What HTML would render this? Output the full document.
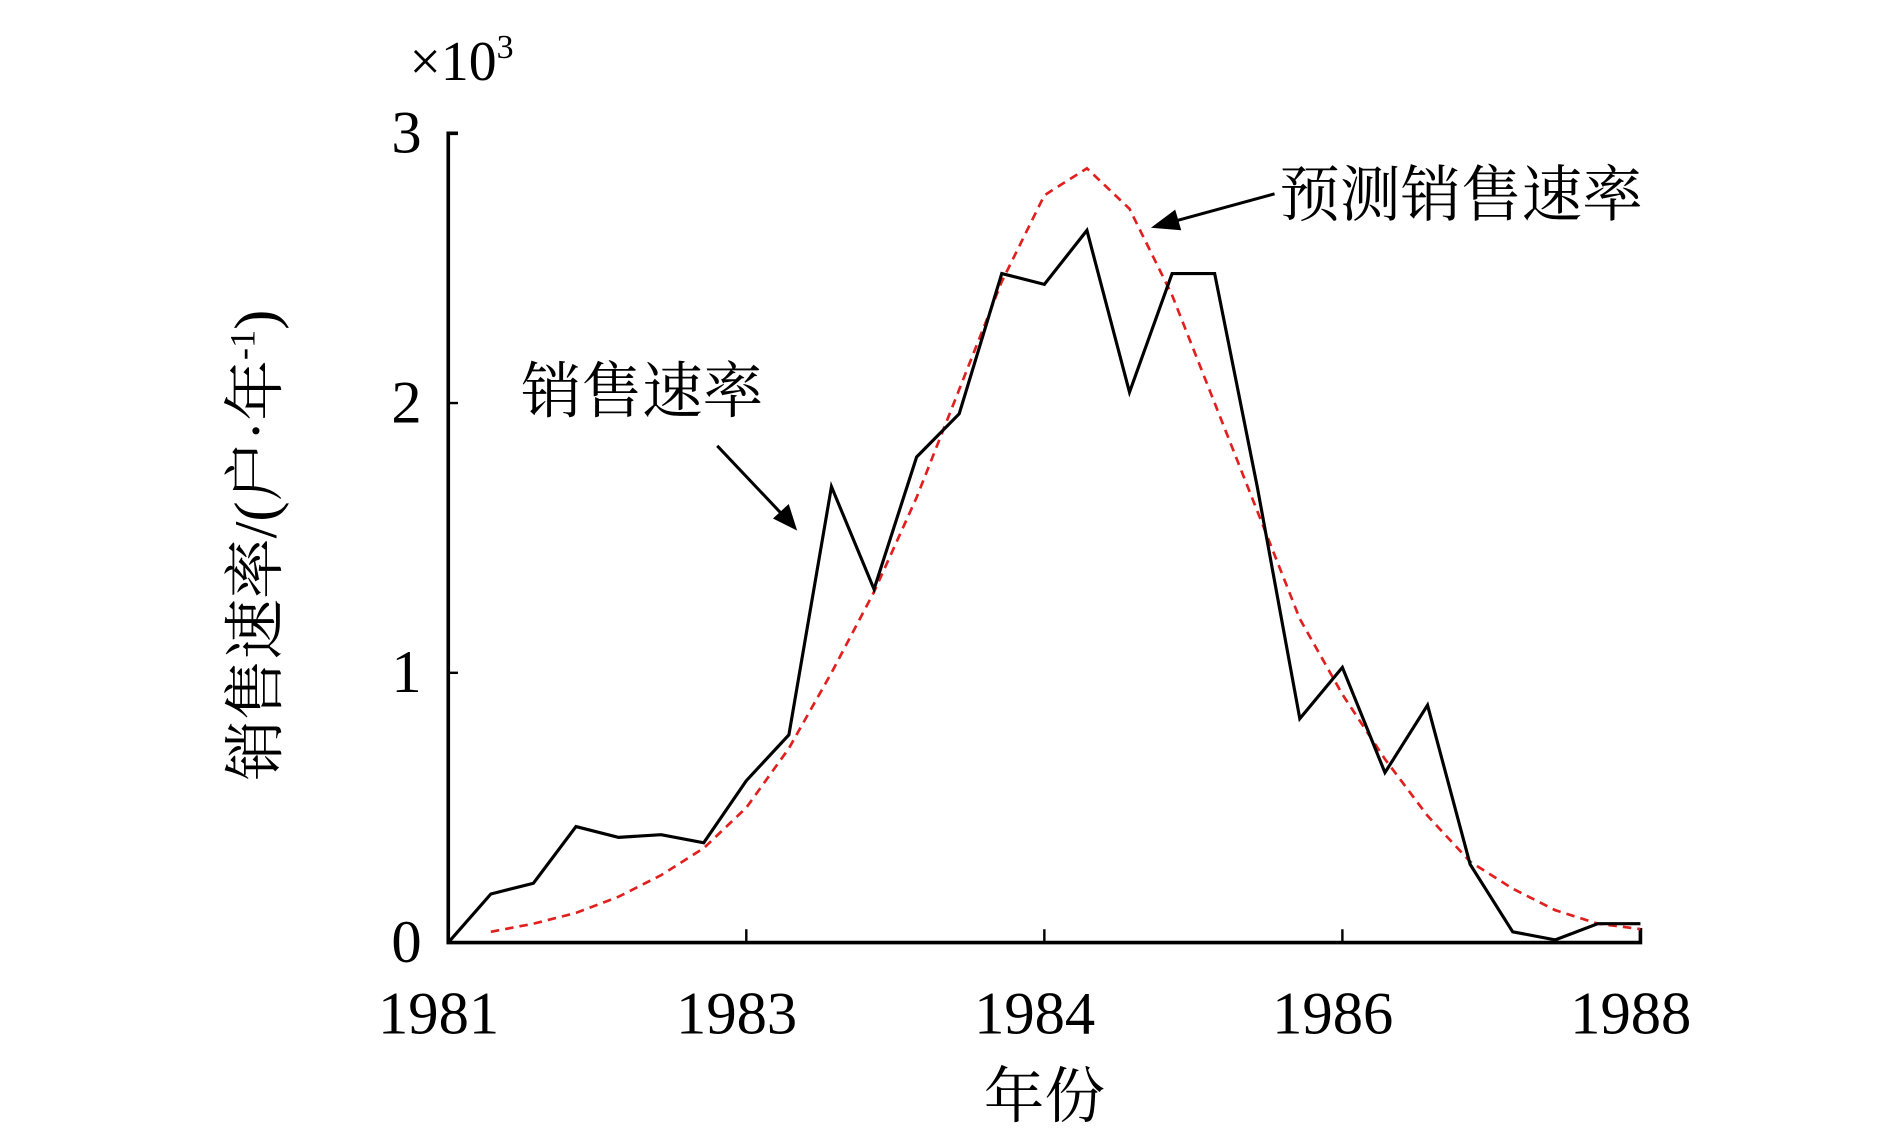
<!DOCTYPE html>
<html><head><meta charset="utf-8"><style>html,body{margin:0;padding:0;background:#fff}svg{display:block}</style></head>
<body>
<svg id="chart" width="1890" height="1134" viewBox="0 0 1560 936" xmlns="http://www.w3.org/2000/svg" font-family="'Liberation Serif','Noto Serif CJK SC',serif">
<rect width="1560" height="936" fill="#fff"/>
<g id="axes"></g>
<g id="series"></g>
<text x="338" y="66" font-size="46">×10<tspan font-size="28" dy="-18">3</tspan></text>
<text transform="translate(228,450) rotate(-90)" text-anchor="middle" font-size="50">销售速率/(户·年<tspan font-size="30" dy="-18">-1</tspan><tspan dy="18">)</tspan></text>
<text x="862" y="922" text-anchor="middle" font-size="50">年份</text>
<text x="1056" y="178" font-size="50">预测销售速率</text>
<text x="430" y="340" font-size="50">销售速率</text>
<g>
<line x1="1052" y1="160" x2="968" y2="183" stroke="#000" stroke-width="2.5"/>
<polygon points="950,188 970,173 975,190" fill="#000"/>
</g>
<g>
<line x1="592" y1="368" x2="646" y2="425" stroke="#000" stroke-width="2.5"/>
<polygon points="658,438 638,428 651,416" fill="#000"/>
</g>
<script>
const xTickIdx=[0,7,14,21,28];
const xTickLabels=["1981","1983","1984","1986","1988"];
const yTicks=[0,1,2,3];
const actual=[0,0.18,0.22,0.43,0.39,0.40,0.37,0.60,0.77,1.69,1.31,1.80,1.96,2.48,2.44,2.64,2.04,2.48,2.48,1.69,0.83,1.02,0.63,0.88,0.29,0.04,0.01,0.07,0.07];
const forecastStart=1;
const forecast=[0.04,0.07,0.11,0.17,0.25,0.35,0.50,0.72,1.0,1.30,1.65,2.05,2.45,2.77,2.87,2.72,2.40,2.0,1.6,1.2,0.92,0.68,0.47,0.30,0.20,0.12,0.07,0.05];
const NS="http://www.w3.org/2000/svg";
const X0=370,X1=1354,Y0=778,Y1=110;
const xs=i=>X0+(X1-X0)*i/28;
const ys=v=>Y0-(Y0-Y1)*v/3;
const axes=document.getElementById('axes'),series=document.getElementById('series');
function mk(t,a,p){const e=document.createElementNS(NS,t);for(const k in a)e.setAttribute(k,a[k]);p.appendChild(e);return e;}
let e=mk('path',{d:`M${X0+8},${Y1} H${X0} V${Y0} H${X1} V${Y0-12}`,fill:'none',stroke:'#000','stroke-width':3},axes);


xTickIdx.forEach((i,k)=>{
 let t=mk('line',{x1:xs(i),x2:xs(i),y1:Y0,y2:Y0-11,stroke:'#000','stroke-width':2},axes);
 
 
 let l=mk('text',{x:xs(i)-8,y:853,'text-anchor':'middle','font-size':50},axes);
 l.textContent=xTickLabels[k];
 
 
});
yTicks.forEach(v=>{
 let t=mk('line',{x1:X0,x2:X0+8,y1:ys(v),y2:ys(v),stroke:'#000','stroke-width':2},axes);
 
 
 let l=mk('text',{x:348,y:ys(v)+16,'text-anchor':'end','font-size':50},axes);
 l.textContent=v;
 
 
});
let pf=mk('polyline',{points:forecast.map((v,i)=>xs(i+forecastStart)+','+ys(v)).join(' '),fill:'none',stroke:'#e0201e','stroke-width':2.2,'stroke-dasharray':'7 5'},series);


let pa=mk('polyline',{points:actual.map((v,i)=>xs(i)+','+ys(v)).join(' '),fill:'none',stroke:'#000','stroke-width':2.6,'stroke-linejoin':'miter'},series);


</script>
</svg>
</body></html>
